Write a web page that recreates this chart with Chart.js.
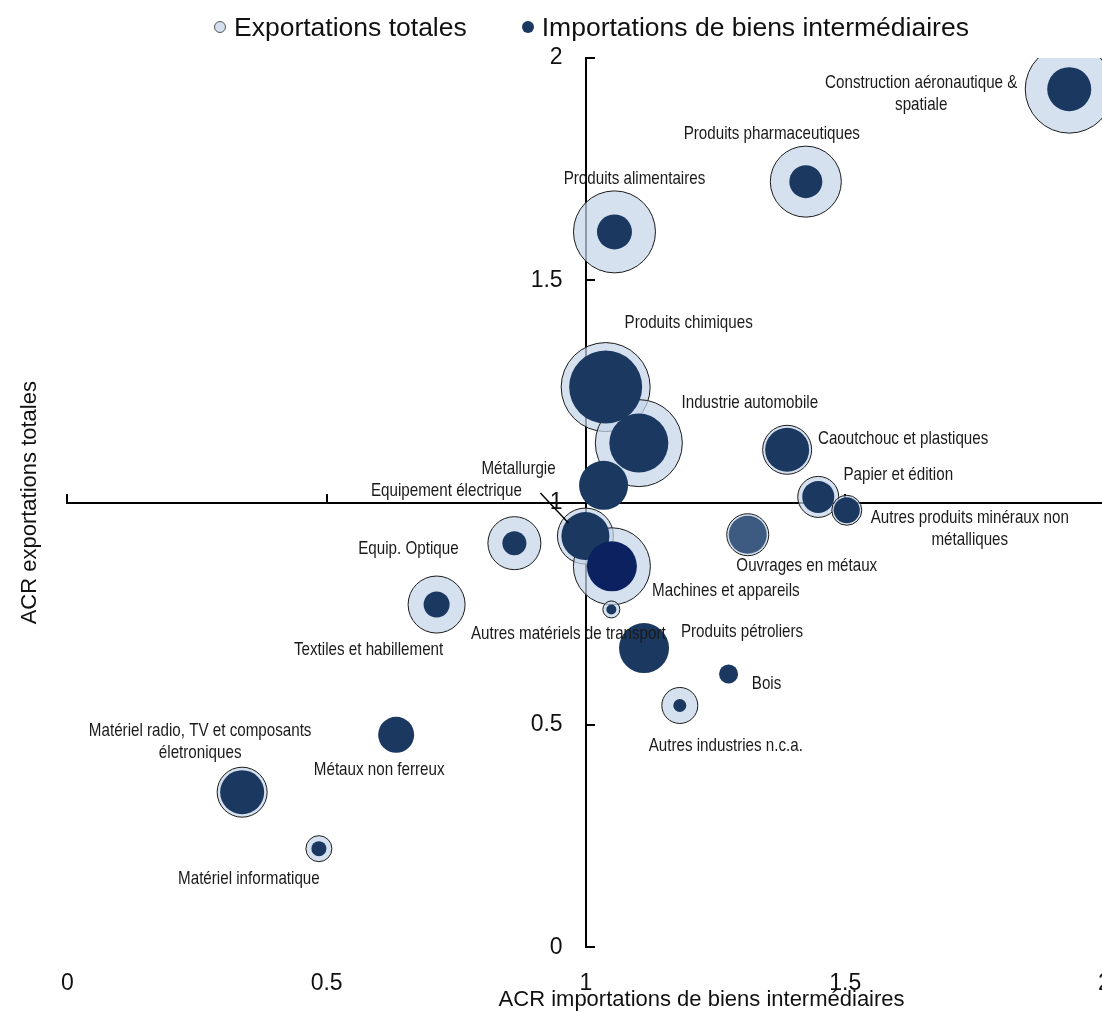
<!DOCTYPE html>
<html lang="fr">
<head>
<meta charset="utf-8">
<title>ACR exportations totales / importations de biens intermédiaires</title>
<script src="https://cdn.jsdelivr.net/npm/chart.js@4.4.1/dist/chart.umd.min.js"></script>
<style>
  html, body { margin: 0; padding: 0; background: #fff; overflow: hidden; }
  #wrap { position: relative; width: 1150px; height: 1019px; }
  #chart { display: block; }
  #legend { position: absolute; top: 11px; left: 214px; display: flex; gap: 55px;
            font: 26.5px 'Liberation Sans', Arial, sans-serif; color: #111; line-height: 32px; }
  #legend .item { display: flex; align-items: center; white-space: nowrap; }
  #legend .dot { width: 12px; height: 12px; border-radius: 50%; box-sizing: border-box; margin-right: 8px; }
</style>
</head>
<body>
<div id="wrap">
  <div id="legend"></div>
  <canvas id="chart" width="1150" height="1019"></canvas>
</div>
<script>
// secteurs (libellés sur plusieurs lignes quand ils sont coupés dans le graphique)
const sectors = [
    ['Construction aéronautique &', 'spatiale'],
    'Produits pharmaceutiques',
    'Produits alimentaires',
    'Produits chimiques',
    'Industrie automobile',
    'Métallurgie',
    'Equipement électrique',
    'Equip. Optique',
    'Machines et appareils',
    'Autres matériels de transport',
    'Ouvrages en métaux',
    'Caoutchouc et plastiques',
    'Papier et édition',
    ['Autres produits minéraux non', 'métalliques'],
    'Produits pétroliers',
    'Bois',
    'Autres industries n.c.a.',
    'Textiles et habillement',
    ['Matériel radio, TV et composants', 'életroniques'],
    'Métaux non ferreux',
    'Matériel informatique'
];

// ACR importations de biens intermédiaires (axe x)
const acrImports = [1.932, 1.424, 1.055, 1.038, 1.102, 1.034, 0.999, 0.862, 1.050, 1.049, 1.312,
                    1.388, 1.448, 1.503, 1.112, 1.275, 1.181, 0.712, 0.337, 0.634, 0.485];
// ACR exportations totales (axe y)
const acrExports = [1.930, 1.722, 1.609, 1.260, 1.134, 1.039, 0.925, 0.909, 0.857, 0.760, 0.928,
                    1.119, 1.013, 0.983, 0.673, 0.615, 0.544, 0.771, 0.349, 0.478, 0.222];
// taille des bulles
const exportBubble = [44, 35.5, 41, 44.5, 43.5, 20, 28, 26.5, 38.5, 8.5, 21,
                      24.5, 20.5, 15, 20, 7, 18, 28.5, 25, 14, 13];
const importBubble = [22, 16.5, 17.5, 36.5, 29.5, 24.5, 24, 12, 25, 5, 19,
                      22, 16, 13, 25, 9.5, 6.5, 13, 22, 18, 7.5];

const xTicks = [0, 0.5, 1, 1.5, 2];
const yTicks = [0, 0.5, 1, 1.5, 2];

const FONT = "'Liberation Sans', Arial, sans-serif";
const LIGHT = 'rgba(197,213,233,0.72)';
const DARK = '#1b3860';

// couleur propre à quelques bulles foncées
const darkColors = sectors.map((s, i) => i === 8 ? '#0b2160' : (i === 10 ? '#3d5a80' : DARK));

// position des libellés par rapport au centre de la bulle (dx, dy de la 1re ligne)
const labelOffsets = [
    [-148, -6], [-34, -48], [20, -53], [83, -64], [111, -40], [-85, -16], [-139, -45],
    [-106, 6], [114, 25], [-43, 24], [59, 31], [116, -11], [80, -22], [123, 8],
    [98, -16], [38, 10], [46, 40], [-68, 45], [-42, -61], [-17, 35], [-70, 30]
];

const sectorLabels = {
    id: 'sectorLabels',
    afterDatasetsDraw(chart) {
        const ctx = chart.ctx;
        const pts = chart.getDatasetMeta(0).data;
        ctx.save();
        ctx.font = `18.5px ${FONT}`;
        ctx.fillStyle = '#1a1a1a';
        ctx.textAlign = 'center';
        ctx.textBaseline = 'middle';
        sectors.forEach((name, i) => {
            const p = pts[i];
            const [dx, dy] = labelOffsets[i];
            [].concat(name).forEach((line, k) => {
                // police étroite : on resserre le texte horizontalement
                ctx.save();
                ctx.translate(p.x + dx, p.y + dy + k * 22);
                ctx.scale(0.82, 1);
                ctx.fillText(line, 0, 0);
                ctx.restore();
            });
        });

        // trait de rappel pour "Equipement électrique"
        const eq = pts[6];
        ctx.strokeStyle = '#000';
        ctx.lineWidth = 1.4;
        ctx.beginPath();
        ctx.moveTo(eq.x - 45, eq.y - 43);
        ctx.lineTo(eq.x - 17, eq.y - 13);
        ctx.stroke();

        // titre de l'axe horizontal
        const xs = chart.scales.x;
        ctx.font = `22px ${FONT}`;
        ctx.fillStyle = '#111';
        ctx.fillText('ACR importations de biens intermédiaires', xs.getPixelForValue(1.223), chart.chartArea.bottom + 53);
        ctx.restore();
    }
};

const htmlLegend = {
    id: 'htmlLegend',
    afterUpdate(chart) {
        const box = document.getElementById('legend');
        box.innerHTML = '';
        chart.data.datasets.forEach((ds) => {
            const item = document.createElement('div');
            item.className = 'item';
            const dot = document.createElement('span');
            dot.className = 'dot';
            dot.style.background = ds.legendColor;
            if (ds.borderWidth) dot.style.border = '1px solid #555';
            const txt = document.createElement('span');
            txt.textContent = ds.label;
            item.appendChild(dot);
            item.appendChild(txt);
            box.appendChild(item);
        });
    }
};

const axisLine = { display: true, color: '#000', width: 2 };
const axisTicks = { display: true, drawOnChartArea: false, drawTicks: true, tickLength: -10, color: '#000', lineWidth: 2 };

const ctx = document.getElementById('chart').getContext('2d');

new Chart(ctx, {
    type: 'bubble',
    data: {
        datasets: [
            {
                label: 'Exportations totales',
                data: sectors.map((s, i) => ({ x: acrImports[i], y: acrExports[i], r: exportBubble[i] })),
                backgroundColor: LIGHT,
                legendColor: '#d3dfee',
                borderColor: '#1a1a1a',
                borderWidth: 1,
                order: 1,
                clip: { left: false, top: 0, right: false, bottom: false }
            },
            {
                label: 'Importations de biens intermédiaires',
                data: sectors.map((s, i) => ({ x: acrImports[i], y: acrExports[i], r: importBubble[i] })),
                backgroundColor: darkColors,
                legendColor: DARK,
                borderWidth: 0,
                order: 0,
                clip: { left: false, top: 0, right: false, bottom: false }
            }
        ]
    },
    options: {
        responsive: false,
        animation: false,
        devicePixelRatio: 1,
        events: [],
        layout: { padding: { top: 58, left: 17, right: 0, bottom: 0 } },
        plugins: {
            legend: { display: false },
            tooltip: { enabled: false }
        },
        scales: {
            x: {
                type: 'linear', position: 'bottom', min: 0, max: 2,
                afterBuildTicks: (s) => { s.ticks = xTicks.map(v => ({ value: v })); },
                ticks: { font: { family: FONT, size: 23 }, color: '#111', padding: 22, callback: (v) => String(v) },
                grid: { display: false, drawTicks: false },
                border: { display: false }
            },
            y: {
                type: 'linear', position: 'left', min: 0, max: 2,
                ticks: { display: false },
                grid: { display: false, drawTicks: false },
                border: { display: false },
                title: {
                    display: true, text: 'ACR exportations totales',
                    font: { family: FONT, size: 22 }, color: '#111',
                    padding: { top: 0, bottom: 24 }
                }
            },
            // axe horizontal qui coupe en y = 1
            xc: {
                type: 'linear', axis: 'x', position: { y: 1 }, min: 0, max: 2,
                afterBuildTicks: (s) => { s.ticks = xTicks.map(v => ({ value: v })); },
                ticks: { display: false },
                grid: axisTicks,
                border: axisLine
            },
            // axe vertical qui coupe en x = 1
            yc: {
                type: 'linear', axis: 'y', position: { x: 1 }, min: 0, max: 2,
                afterBuildTicks: (s) => { s.ticks = yTicks.map(v => ({ value: v })); },
                ticks: { display: false },
                grid: axisTicks,
                border: axisLine
            },
            // graduations de l'axe vertical, un peu à gauche de l'axe
            yl: {
                type: 'linear', axis: 'y', position: { x: 0.955 }, min: 0, max: 2,
                afterBuildTicks: (s) => { s.ticks = yTicks.map(v => ({ value: v })); },
                ticks: { font: { family: FONT, size: 23 }, color: '#111', padding: 0, callback: (v) => String(v) },
                grid: { display: false, drawTicks: false },
                border: { display: false }
            }
        }
    },
    plugins: [sectorLabels, htmlLegend]
});
</script>
</body>
</html>
